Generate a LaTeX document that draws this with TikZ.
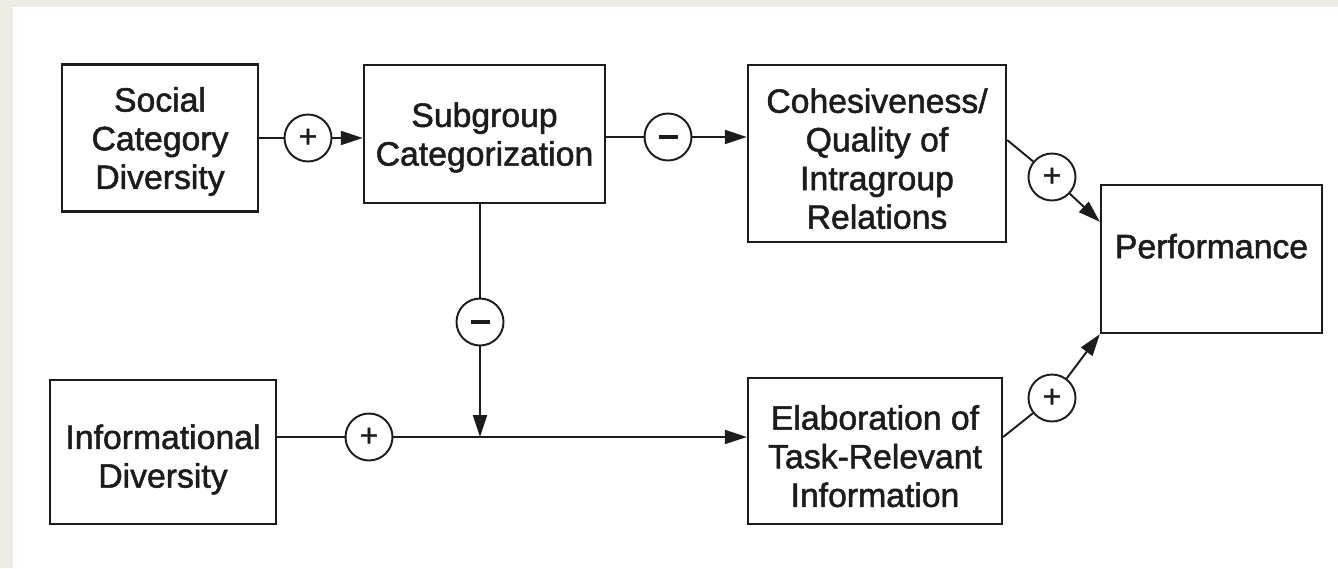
\documentclass[tikz,border=0pt]{standalone}
\usepackage{fontspec}
\setmainfont{Liberation Sans}
\newfontfamily\boxfont{Liberation Sans}[FakeBold=1.5]
\usetikzlibrary{arrows.meta,calc}
\definecolor{pagebeige}{HTML}{EEEBE4}
\definecolor{ink}{HTML}{1C1C1C}
\newcommand\topgap[1]{\rule{0pt}{#1}}
\newcommand\minusbar{\rule{0.38cm}{1.8pt}}
\tikzset{
  factor/.style={draw=ink, line width=1.3pt, align=center, inner sep=0pt, text=ink, text depth=-0.12cm, font=\boxfont\fontsize{19.2}{22}\selectfont},
  sign/.style={draw=ink, circle, line width=1.1pt, minimum size=0.94cm, inner sep=0pt, text=ink, font=\boxfont\fontsize{18}{18}\selectfont},
  link/.style={draw=ink, line width=1.1pt},
  arr/.style={link, -{Triangle[length=4.4mm,width=2.8mm]}}
}

\begin{document}
\begin{tikzpicture}
			%%%%% START %%%%%
			
			\fill[pagebeige] (0, 0) rectangle (26.76, 11.36);
			\fill[white] (0.26, 0) rectangle (26.76, 11.22);
			\useasboundingbox (0, 0) rectangle (26.76, 11.36);
			
			\node[factor, minimum width=3.92cm, minimum height=2.94cm] (social) at (3.2, 8.6) {Social\\Category\\Diversity};
			\node[factor, minimum width=4.82cm, minimum height=2.76cm] (subgroup) at (9.69, 8.68) {Subgroup\\Categorization};
			\node[factor, minimum width=5.16cm, minimum height=3.54cm] (cohesion) at (17.54, 8.29) {\topgap{0.69cm}Cohesiveness/\\Quality of\\Intragroup\\Relations};
			\node[factor, minimum width=4.42cm, minimum height=2.96cm, text depth=0.52cm] (perform) at (24.23, 6.18) {Performance};
			\node[factor, minimum width=4.52cm, minimum height=2.88cm] (infodiv) at (3.26, 2.32) {\topgap{0.65cm}Informational\\Diversity};
			\node[factor, minimum width=5.08cm, minimum height=2.92cm] (elaborate) at (17.5, 2.34) {\topgap{0.69cm}Elaboration of\\Task-Relevant\\Information};
			
			\node[sign] (s1) at (6.16, 8.6) {+};
			\node[sign] (s2) at (13.36, 8.62) {\minusbar};
			\node[sign] (s3) at (21.04, 7.82) {+};
			\node[sign] (s4) at (21.04, 3.4) {+};
			\node[sign] (s5) at (9.6, 4.92) {\minusbar};
			\node[sign] (s6) at (7.38, 2.62) {+};
			
			\coordinate (meet) at (s5 |- s6);
			\coordinate (ptop) at ($(perform.north west)+(0, -0.76)$);
			
			\draw[link] (social.east |- s1) -- (s1);
			\draw[arr] (s1) -- (subgroup.west |- s1);
			
			\draw[link] (subgroup.east |- s2) -- (s2);
			\draw[arr] (s2) -- (cohesion.west |- s2);
			
			\draw[link] ($(cohesion.east |- s2)+(0, -0.06)$) -- (s3);
			\draw[arr] (s3) -- (ptop);
			
			\draw[link] (subgroup.south -| s5) -- (s5);
			\draw[arr] (s5) -- (meet);
			
			\draw[link] (infodiv.east |- s6) -- (s6);
			\draw[arr] (s6) -- (elaborate.west |- s6);
			
			\draw[link] (elaborate.east |- s6) -- (s4);
			\draw[arr] (s4) -- (perform.south west);
			
			%%%%% END %%%%%
\end{tikzpicture}
\end{document}
